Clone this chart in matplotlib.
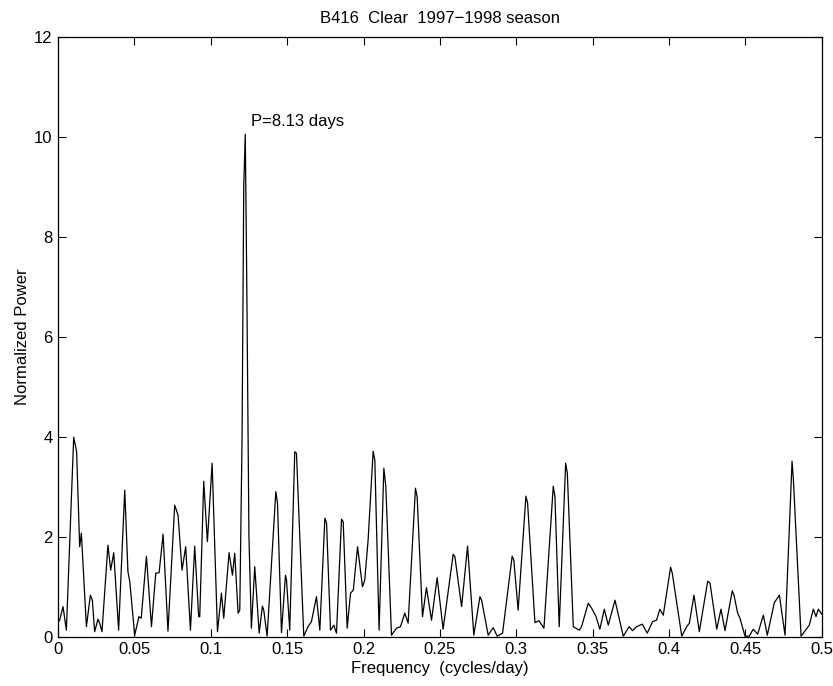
import matplotlib
matplotlib.use("Agg")
import matplotlib.pyplot as plt

plt.rcParams["font.family"] = ["Liberation Sans", "DejaVu Sans"]

# periodogram: frequency (cycles/day) and normalized power
freq = [
    0.0, 0.0011, 0.0033, 0.0055, 0.0103, 0.0122, 0.0142, 0.0153, 0.0186, 0.0212,
    0.0225, 0.0240, 0.0262, 0.0273, 0.0288, 0.0327, 0.0345, 0.0365, 0.0397, 0.0437,
    0.0458, 0.0470, 0.0502, 0.0530, 0.0545, 0.0579, 0.0612, 0.0640, 0.0662, 0.0688,
    0.0720, 0.0764, 0.0786, 0.0812, 0.0836, 0.0867, 0.0895, 0.0921, 0.0928, 0.0954,
    0.0978, 0.1009, 0.1044, 0.1070, 0.1085, 0.1120, 0.1142, 0.1157, 0.1179, 0.1190,
    0.1205, 0.1216, 0.1226, 0.1236, 0.1250, 0.1266, 0.1288, 0.1317, 0.1338, 0.1347,
    0.1369, 0.1426, 0.1437, 0.1463, 0.1489, 0.1496, 0.1517, 0.1550, 0.1561, 0.1609,
    0.1637, 0.1659, 0.1692, 0.1714, 0.1747, 0.1758, 0.1784, 0.1806, 0.1823, 0.1856,
    0.1867, 0.1893, 0.1915, 0.1933, 0.1961, 0.1993, 0.2008, 0.2030, 0.2063, 0.2074,
    0.2102, 0.2133, 0.2146, 0.2183, 0.2216, 0.2242, 0.2270, 0.2292, 0.2340, 0.2351,
    0.2386, 0.2412, 0.2445, 0.2482, 0.2521, 0.2587, 0.2598, 0.2642, 0.2681, 0.2722,
    0.2762, 0.2773, 0.2816, 0.2849, 0.2875, 0.2910, 0.2973, 0.2984, 0.3012, 0.3063,
    0.3074, 0.3122, 0.3148, 0.3181, 0.3242, 0.3253, 0.3281, 0.3323, 0.3334, 0.3373,
    0.3412, 0.3427, 0.3471, 0.3493, 0.3521, 0.3547, 0.3576, 0.3602, 0.3646, 0.3700,
    0.3739, 0.3761, 0.3787, 0.3825, 0.3857, 0.3892, 0.3918, 0.3940, 0.3962, 0.4010,
    0.4021, 0.4083, 0.4115, 0.4133, 0.4163, 0.4198, 0.4253, 0.4268, 0.4312, 0.4340,
    0.4366, 0.4414, 0.4425, 0.4449, 0.4464, 0.4497, 0.4525, 0.4551, 0.4580, 0.4617,
    0.4643, 0.4689, 0.4722, 0.4759, 0.4805, 0.4814, 0.4864, 0.4918, 0.4944, 0.4962,
    0.4977, 0.5000,
]
power = [
    0.30, 0.33, 0.60, 0.13, 3.99, 3.70, 1.80, 2.07, 0.20, 0.83,
    0.73, 0.10, 0.35, 0.27, 0.10, 1.83, 1.33, 1.68, 0.13, 2.93,
    1.30, 1.10, 0.03, 0.40, 0.37, 1.61, 0.20, 1.27, 1.28, 2.05,
    0.11, 2.63, 2.43, 1.33, 1.80, 0.13, 1.81, 0.40, 0.40, 3.11,
    1.90, 3.47, 0.10, 0.87, 0.37, 1.68, 1.23, 1.67, 0.47, 0.53,
    4.00, 9.00, 10.05, 7.00, 2.00, 0.17, 1.40, 0.07, 0.61, 0.53,
    0.01, 2.90, 2.67, 0.08, 1.23, 1.13, 0.13, 3.70, 3.67, 0.01,
    0.20, 0.30, 0.80, 0.13, 2.37, 2.27, 0.13, 0.23, 0.07, 2.35,
    2.30, 0.17, 0.87, 0.93, 1.80, 1.00, 1.13, 1.93, 3.71, 3.53,
    0.13, 3.37, 3.00, 0.03, 0.17, 0.20, 0.47, 0.27, 2.97, 2.80,
    0.40, 0.98, 0.33, 1.18, 0.15, 1.65, 1.60, 0.60, 1.81, 0.03,
    0.80, 0.73, 0.03, 0.18, 0.01, 0.07, 1.61, 1.53, 0.53, 2.81,
    2.67, 0.28, 0.32, 0.17, 3.01, 2.80, 0.20, 3.47, 3.27, 0.20,
    0.13, 0.20, 0.67, 0.57, 0.41, 0.15, 0.55, 0.23, 0.73, 0.01,
    0.20, 0.12, 0.20, 0.25, 0.07, 0.30, 0.33, 0.55, 0.43, 1.39,
    1.27, 0.01, 0.20, 0.27, 0.83, 0.10, 1.11, 1.07, 0.15, 0.55,
    0.12, 0.92, 0.83, 0.47, 0.37, 0.01, 0.01, 0.15, 0.05, 0.43,
    0.03, 0.68, 0.83, 0.03, 3.51, 3.13, 0.01, 0.23, 0.55, 0.40,
    0.55, 0.45,
]

peak_label = "P=8.13 days"
peak_label_pos = (0.1263, 10.3)

x_ticks = [0, 0.05, 0.1, 0.15, 0.2, 0.25, 0.3, 0.35, 0.4, 0.45, 0.5]
x_tick_labels = ["0", "0.05", "0.1", "0.15", "0.2", "0.25", "0.3", "0.35", "0.4", "0.45", "0.5"]
y_ticks = [0, 2, 4, 6, 8, 10, 12]

FS = 12

fig = plt.figure(figsize=(8.33, 6.86), dpi=100)
ax = fig.add_axes([0.0696, 0.0719, 0.917, 0.8746])

ax.plot(freq, power, color="black", linewidth=0.9)
ax.text(peak_label_pos[0], peak_label_pos[1], peak_label, fontsize=FS, va="center", ha="left")

ax.set_xlim(0, 0.5)
ax.set_ylim(0, 12)
ax.set_xticks(x_ticks)
ax.set_xticklabels(x_tick_labels)
ax.set_yticks(y_ticks)
ax.tick_params(direction="in", top=True, right=True, length=6, width=0.8, labelsize=FS, pad=4)
for sp in ax.spines.values():
    sp.set_linewidth(0.9)

ax.set_title("B416  Clear  1997\u22121998 season", fontsize=FS, pad=10)
ax.set_xlabel("Frequency  (cycles/day)", fontsize=FS, labelpad=3)
ax.set_ylabel("Normalized Power", fontsize=FS, labelpad=3)

fig.savefig("out.png", dpi=100)
